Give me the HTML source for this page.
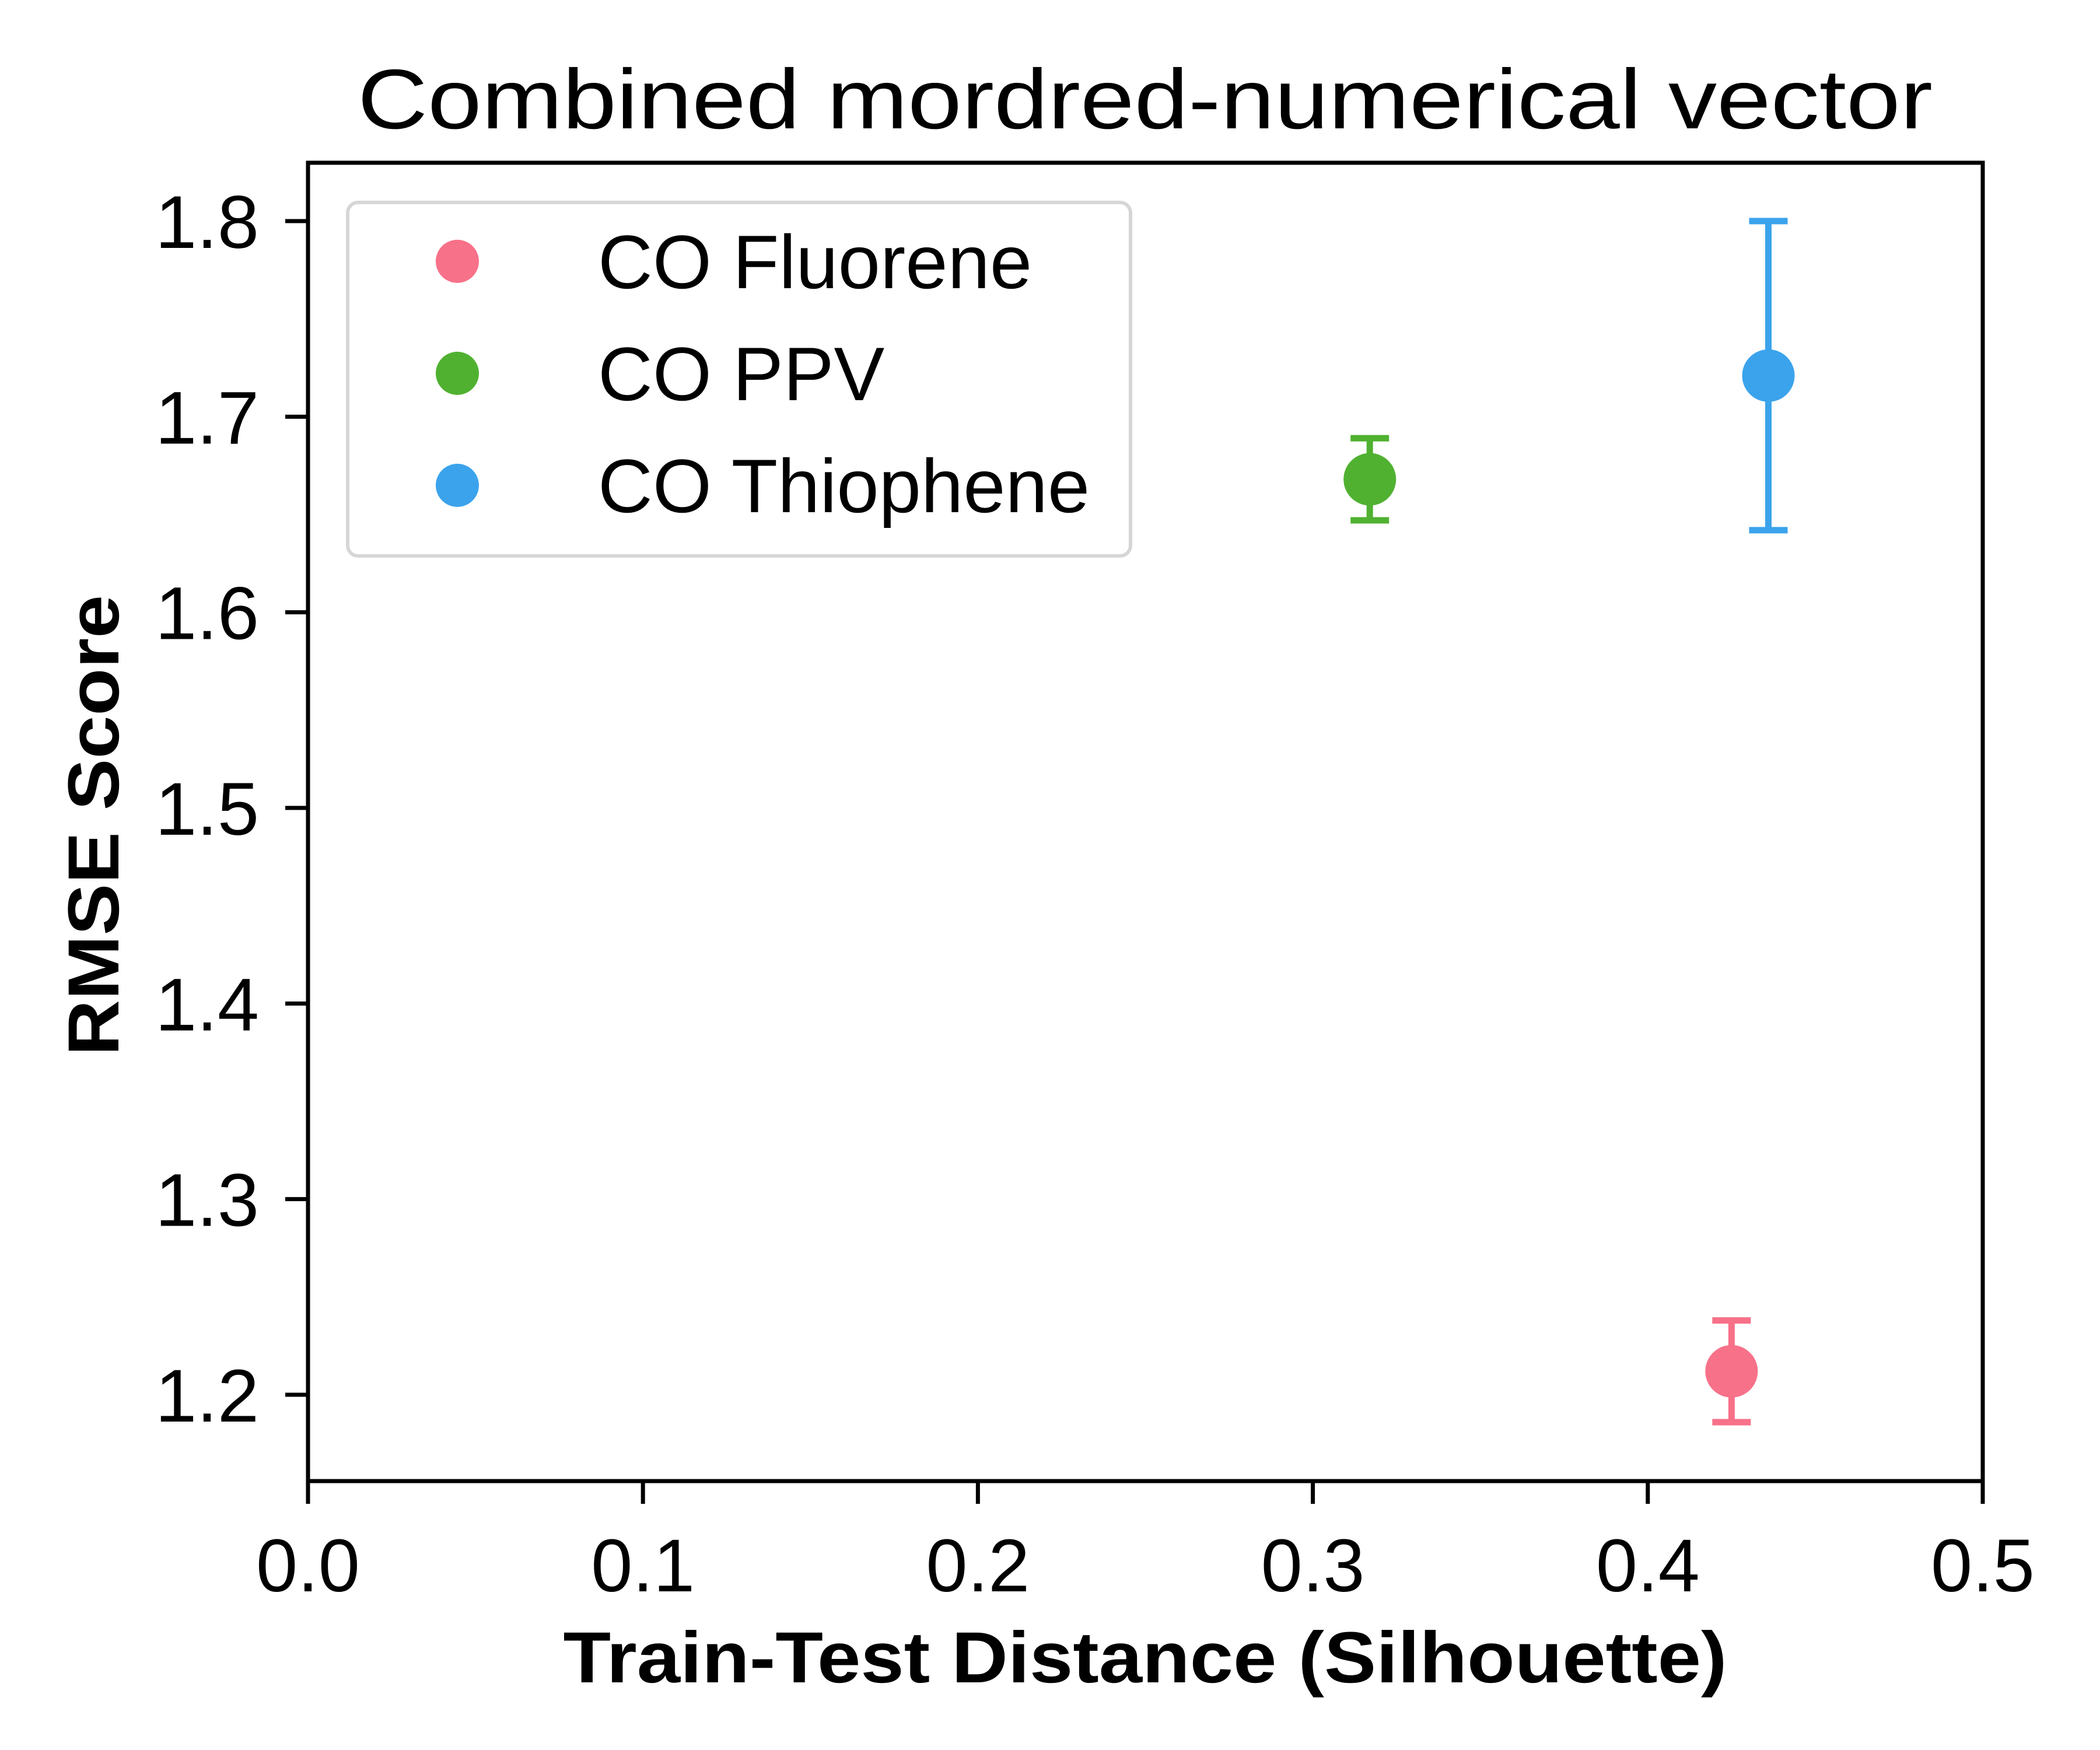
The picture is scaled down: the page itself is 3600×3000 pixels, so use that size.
<!DOCTYPE html>
<html><head><meta charset="utf-8"><style>
html,body{margin:0;padding:0;background:#fff;}
svg{display:block;font-family:"Liberation Sans",Arial,sans-serif;}
</style></head><body>
<svg id="chart" width="3600" height="3000" viewBox="0 0 3600 3000" xmlns="http://www.w3.org/2000/svg">
<rect x="0" y="0" width="3600" height="3000" fill="#fff"/>
<text x="1963" y="220" font-size="145" text-anchor="middle" textLength="2700" lengthAdjust="spacingAndGlyphs">Combined mordred-numerical vector</text>
<g id="marks"></g>
<g id="axes"></g>
<g>
<rect x="596" y="347" width="1342" height="606" rx="18" fill="#fff" fill-opacity="0.8" stroke="#d6d6d6" stroke-width="6"/>
<g id="legend-items"></g>
</g>
<text x="1963" y="2884" font-size="124" font-weight="bold" text-anchor="middle" textLength="1995" lengthAdjust="spacingAndGlyphs">Train-Test Distance (Silhouette)</text>
<text transform="translate(203,1415) rotate(-90)" font-size="124" font-weight="bold" text-anchor="middle" textLength="790" lengthAdjust="spacingAndGlyphs">RMSE Score</text>
</svg>
<script>
const seriesNames = ["CO Fluorene", "CO PPV", "CO Thiophene"];
const seriesColors = ["#f77189", "#50b131", "#3ba3ec"];
const xValues = [0.425, 0.317, 0.436];
const yValues = [1.212, 1.668, 1.721];
const yErrors = [0.026, 0.021, 0.079];
const xTicks = [0.0, 0.1, 0.2, 0.3, 0.4, 0.5];
const xTickLabels = ["0.0", "0.1", "0.2", "0.3", "0.4", "0.5"];
const yTicks = [1.2, 1.3, 1.4, 1.5, 1.6, 1.7, 1.8];
const yTickLabels = ["1.2", "1.3", "1.4", "1.5", "1.6", "1.7", "1.8"];

const NS = "http://www.w3.org/2000/svg";
const L = 528, R = 3399, T = 279, B = 2539;
const xMin = 0, xMax = 0.5;
const y18 = 379, y12 = 2391;
function sx(v){ return L + (v - xMin) / (xMax - xMin) * (R - L); }
function sy(v){ return y12 + (v - 1.2) / 0.6 * (y18 - y12); }
function mk(tag, attrs, parent){
  const e = document.createElementNS(NS, tag);
  for (const k in attrs) e.setAttribute(k, attrs[k]);
  parent.appendChild(e);
  return e;
}
const marks = document.getElementById("marks");
const axes = document.getElementById("axes");
for (let i = 0; i < xValues.length; i++) {
  const g = mk("g", {}, marks);
  
  
  const cx = sx(xValues[i]), cy = sy(yValues[i]);
  const yt = sy(yValues[i] + yErrors[i]), yb = sy(yValues[i] - yErrors[i]);
  const c = seriesColors[i];
  const eb = mk("path", {d: `M${cx},${yt}V${yb}M${cx-33},${yt}H${cx+33}M${cx-33},${yb}H${cx+33}`, stroke: c, "stroke-width": 11, fill: "none"}, g);
  
  
  const p = mk("circle", {cx: cx, cy: cy, r: 45, fill: c}, g);
  
  
}
const frame = mk("rect", {x: L, y: T, width: R - L, height: B - T, fill: "none", stroke: "#000", "stroke-width": 7}, axes);


for (let i = 0; i < xTicks.length; i++) {
  const x = sx(xTicks[i]);
  const t = mk("line", {x1: x, x2: x, y1: B, y2: B + 39, stroke: "#000", "stroke-width": 7}, axes);
  
  
  const lb = mk("text", {x: x, y: 2728, "font-size": 128, "text-anchor": "middle"}, axes);
  
  
  lb.textContent = xTickLabels[i];
}
for (let i = 0; i < yTicks.length; i++) {
  const y = sy(yTicks[i]);
  const t = mk("line", {x1: L - 39, x2: L, y1: y, y2: y, stroke: "#000", "stroke-width": 7}, axes);
  
  
  const lb = mk("text", {x: 444, y: y + 46, "font-size": 128, "text-anchor": "end"}, axes);
  
  
  lb.textContent = yTickLabels[i];
}
const li = document.getElementById("legend-items");
for (let i = 0; i < seriesNames.length; i++) {
  const cy = 448 + i * 192;
  const g = mk("g", {}, li);
  
  
  const m = mk("circle", {cx: 784, cy: cy, r: 37, fill: seriesColors[i]}, g);
  
  
  const t = mk("text", {x: 1025, y: cy + 46, "font-size": 130}, g);
  
  
  t.textContent = seriesNames[i];
}
</script>
</body></html>
